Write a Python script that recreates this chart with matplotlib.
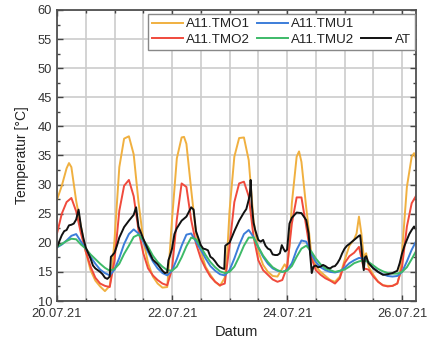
import numpy as np
import pandas as pd
import matplotlib
matplotlib.use('Agg')
import matplotlib.pyplot as plt
import matplotlib.dates as mdates
from matplotlib.ticker import MultipleLocator
from matplotlib.lines import Line2D

plt.rcParams['font.family'] = ['Liberation Sans', 'DejaVu Sans']

# hours since 20.07.21 00:00, 2-hour grid for the smooth sensors
hours = np.arange(0, 151, 2)

tmo2 = [21.6, 25.0, 27.0, 27.7, 25.4, 21.6, 18.5, 15.9, 14.0, 13.0, 12.6, 12.4,
        17.0, 25.5, 29.8, 30.8, 28.0, 22.2, 18.2, 15.6, 14.4, 13.6, 13.0, 12.7,
        15.5, 24.0, 30.2, 29.6, 23.9, 19.9, 17.3, 15.6, 14.2, 13.3, 12.7, 13.0,
        19.5, 27.0, 30.2, 30.5, 28.0, 21.1, 17.0, 15.3, 14.5, 13.7, 13.3, 13.6,
        15.8, 23.3, 27.8, 27.8, 22.8, 17.6, 15.3, 14.5, 13.9, 13.5, 13.0, 13.9,
        16.5, 17.7, 18.3, 19.3, 15.6, 15.4, 14.2, 13.3, 12.7, 12.5, 12.6, 13.0,
        15.9, 22.8, 26.8, 28.2]

tmu1 = [19.2, 19.7, 20.4, 21.2, 21.5, 20.2, 19.0, 17.6, 16.4, 15.4, 14.8, 14.4,
        15.4, 17.4, 19.8, 21.5, 22.3, 21.6, 20.2, 18.4, 16.8, 15.6, 14.8, 14.4,
        15.2, 17.2, 19.5, 21.4, 21.6, 20.2, 18.8, 17.3, 16.0, 15.2, 14.6, 14.4,
        15.3, 17.3, 19.6, 21.5, 22.2, 21.0, 19.2, 17.6, 16.4, 15.6, 15.2, 15.0,
        15.3, 16.5, 18.8, 20.4, 20.2, 18.2, 16.7, 15.8, 15.3, 15.0, 14.9, 15.1,
        15.7, 16.5, 17.0, 17.4, 17.3, 16.6, 15.7, 15.0, 14.6, 14.3, 14.2, 14.3,
        15.0, 16.8, 18.8, 20.4]

tmu2 = [19.3, 19.8, 20.3, 20.7, 20.6, 19.7, 19.0, 18.0, 17.2, 16.4, 15.7, 15.2,
        15.5, 16.4, 18.1, 19.5, 21.0, 21.4, 20.5, 19.3, 17.8, 16.7, 15.9, 15.3,
        15.2, 15.9, 17.5, 19.4, 20.9, 20.6, 19.3, 17.9, 16.7, 15.8, 15.1, 14.8,
        15.0, 15.9, 17.6, 19.5, 20.9, 20.9, 19.3, 17.8, 16.7, 15.8, 15.3, 15.0,
        15.2, 16.0, 17.6, 19.0, 19.5, 18.6, 17.3, 16.3, 15.6, 15.3, 15.0, 15.2,
        15.4, 15.9, 16.5, 16.8, 17.0, 16.7, 16.1, 15.5, 15.1, 14.8, 14.7, 14.7,
        15.0, 15.8, 17.2, 18.7]

# TMO1 and AT need extra points around peaks and jumps
t_tmo1 = [0, 2, 4, 5, 6, 8, 10, 12, 14, 16, 18, 20, 22,
          23, 24, 26, 28, 30, 32, 34, 36, 38, 40, 42, 44, 46,
          47, 48, 50, 52, 53, 54, 56, 58, 60, 62, 64, 66, 68, 70,
          71, 72, 74, 76, 78, 80, 82, 84, 86, 88, 90, 92, 94, 95, 96,
          97, 98, 100, 101, 102, 104, 105, 106, 108, 110, 112, 114, 116, 118,
          120, 122, 124, 125, 126, 127, 128, 129, 130, 132, 134, 136, 138, 140, 142,
          143, 144, 146, 148, 149, 150]
tmo1 = [27.4, 29.8, 32.8, 33.7, 33.0, 27.2, 22.8, 18.5, 15.3, 13.5, 12.5, 11.7, 12.6,
        15.5, 20.5, 33.0, 37.9, 38.3, 35.2, 27.0, 20.5, 16.5, 14.2, 13.0, 12.3, 12.4,
        18.0, 24.0, 34.5, 38.1, 38.2, 37.0, 29.1, 21.6, 18.5, 15.9, 14.5, 13.3, 12.6, 14.0,
        18.0, 25.5, 34.8, 38.0, 38.1, 34.2, 23.9, 18.5, 16.2, 15.0, 14.3, 14.2, 15.6, 16.3, 15.6,
        19.5, 26.8, 34.8, 35.7, 33.9, 26.0, 22.5, 18.5, 15.9, 15.0, 14.3, 13.6, 13.3, 14.2,
        17.0, 19.5, 20.6, 21.6, 24.5, 21.6, 17.6, 18.2, 15.9, 14.5, 13.3, 12.7, 12.6, 12.6, 13.0,
        14.5, 18.5, 29.6, 34.8, 35.4, 34.2]

t_at = [0, 1, 2, 3, 4, 5, 6, 7, 8, 9, 10, 11, 12, 14, 15, 16, 18, 19, 20, 21, 22, 22.5, 23,
        24, 25, 26, 28, 30, 32, 33, 34, 36, 38, 40, 42, 44, 45, 46, 46.5, 47,
        48, 49, 50, 52, 54, 56, 57, 58, 60, 61, 62, 63, 64, 65, 66, 67, 68, 69, 69.8, 70.2, 71.5,
        72, 73, 74, 76, 78, 79, 80, 80.5, 80.8, 81.3, 82, 82.7, 84, 85, 86, 87, 88, 89, 90, 91,
        92, 93, 93.8, 94.5, 95.2, 96,
        97, 98, 100, 102, 104, 105, 105.6, 106.3, 107, 108, 109, 110, 111, 112, 113, 114, 115,
        116, 117, 118, 119, 120,
        121, 122, 124, 126, 126.5, 127, 127.5, 128, 128.5, 129, 130, 132, 134, 136, 138, 140,
        142, 143, 144, 145, 146, 147, 148, 149, 150]
at = [19.2, 20.3, 21.3, 22.0, 22.2, 23.0, 23.1, 23.3, 24.0, 25.7, 22.8, 20.8, 19.2, 17.3, 16.1,
      15.6, 15.0, 14.6, 14.0, 13.8, 14.2, 17.6, 17.8,
      18.3, 19.5, 20.9, 22.7, 23.8, 24.8, 26.1, 22.8, 20.7, 18.8, 17.1, 16.3, 15.2, 14.8, 14.9,
      17.0, 17.6,
      19.0, 21.5, 22.5, 23.8, 24.5, 26.1, 25.7, 22.0, 19.6, 19.0, 18.9, 18.7, 17.6, 17.3, 16.8,
      16.2, 15.8, 15.6, 15.5, 19.5, 19.9,
      20.0, 21.0, 22.0, 23.8, 25.2, 25.8, 27.4, 28.5, 30.8, 26.5, 23.5, 22.2, 20.5, 20.2, 20.5,
      19.5, 19.0, 18.8, 18.0, 17.9, 17.9, 18.2, 19.6, 19.0, 18.5, 18.8,
      23.3, 24.3, 25.2, 25.1, 23.9, 21.6, 18.2, 14.8, 15.9, 16.1, 15.8, 15.9, 16.2, 16.0, 15.7,
      15.6, 15.9, 16.0, 16.5, 17.2, 18.2, 19.0,
      19.5, 19.8, 20.5, 21.2, 21.3, 19.3, 17.0, 15.3, 17.5, 17.7, 16.5, 15.6, 15.0, 14.5, 14.6,
      14.8, 15.2, 16.5, 18.2, 19.5, 20.5, 21.5, 22.2, 22.8, 22.2]

start = pd.Timestamp('2021-07-20')


def to_time(h):
    return start + pd.to_timedelta(np.asarray(h, dtype=float), unit='h')


fig = plt.figure(figsize=(4.3, 3.43), dpi=100)
ax = fig.add_axes([57 / 430, 1 - 301 / 343, 359 / 430, 291 / 343])

lw = 1.4
l1, = ax.plot(to_time(t_tmo1), tmo1, color='#f0b040', lw=lw)
l2, = ax.plot(to_time(hours), tmo2, color='#f04a3c', lw=lw)
l3, = ax.plot(to_time(hours), tmu1, color='#3c7dd9', lw=lw)
l4, = ax.plot(to_time(hours), tmu2, color='#3dba68', lw=lw)
l5, = ax.plot(to_time(t_at), at, color='#111111', lw=lw)

ax.set_xlim(to_time(0), to_time(149.8))
ax.set_ylim(10, 60)
ax.xaxis.set_major_locator(mdates.DayLocator(bymonthday=[20, 22, 24, 26]))
ax.xaxis.set_major_formatter(mdates.DateFormatter('%d.%m.%y'))
ax.xaxis.set_minor_locator(mdates.HourLocator(byhour=[0, 12]))
ax.yaxis.set_major_locator(MultipleLocator(5))
ax.yaxis.set_minor_locator(MultipleLocator(2.5))

ax.grid(True, which='major', color='#cccccc', lw=1.2)
ax.grid(True, which='minor', axis='x', color='#cccccc', lw=1.2)
ax.set_axisbelow(True)
ax.tick_params(which='both', direction='in', top=True, right=True,
               colors='#444444', labelcolor='#333333', labelsize=9.3)
ax.tick_params(which='major', length=4, width=1)
ax.tick_params(which='minor', length=2.5, width=1)
ax.tick_params(axis='x', pad=5)
for s in ax.spines.values():
    s.set_color('#505050')
    s.set_linewidth(1.3)

ax.set_ylabel('Temperatur [°C]', fontsize=10, color='#222222', labelpad=6)
ax.set_xlabel('Datum', fontsize=10.5, color='#222222', labelpad=4)

blank = Line2D([], [], color='none')
leg = ax.legend([l1, l2, l3, l4, blank, l5],
                ['A11.TMO1', 'A11.TMO2', 'A11.TMU1', 'A11.TMU2', '', 'AT'],
                ncol=3, loc='upper right', bbox_to_anchor=(0.997, 0.986),
                borderaxespad=0, fontsize=9.6, frameon=True, fancybox=False,
                edgecolor='#888888', framealpha=1, handlelength=2.3,
                handletextpad=0.25, columnspacing=0.5, borderpad=0.3,
                labelspacing=0.25)
leg.get_frame().set_linewidth(1)
for t in leg.get_texts():
    t.set_color('#222222')

fig.savefig('out.png', dpi=100)
